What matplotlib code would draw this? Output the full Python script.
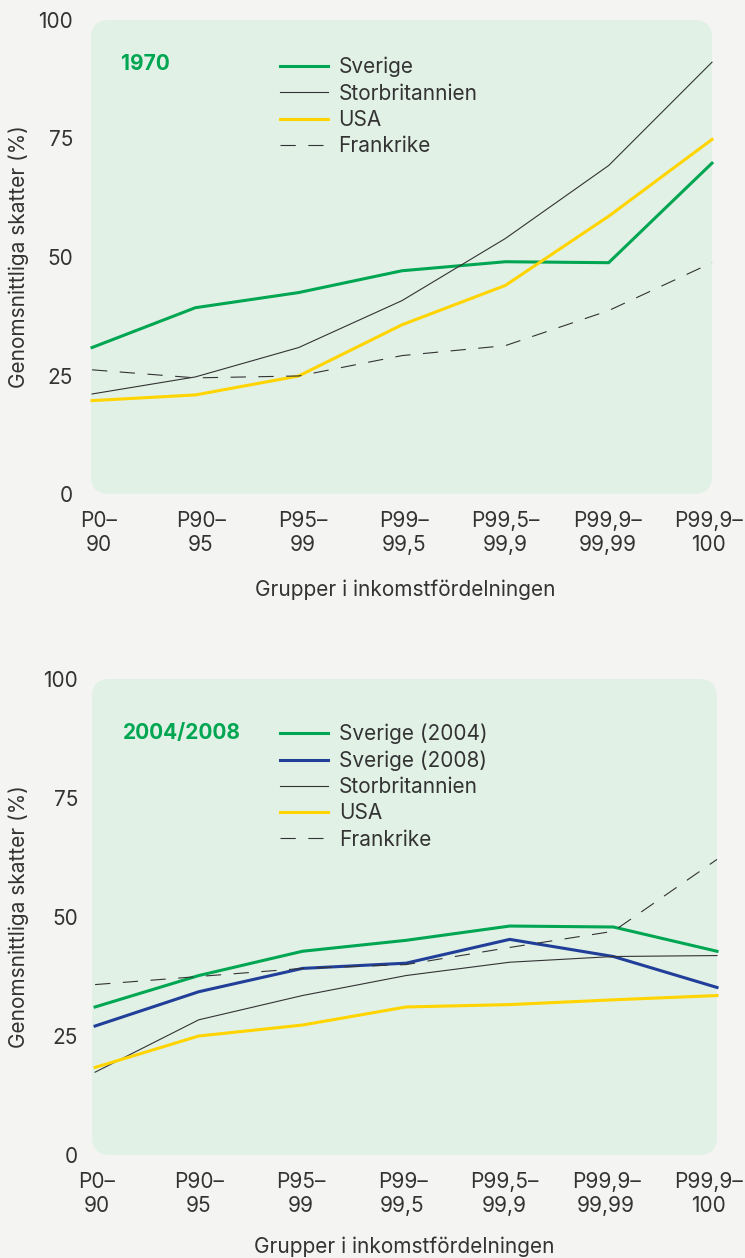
import matplotlib
matplotlib.use("Agg")
import matplotlib.pyplot as plt
from matplotlib.patches import FancyBboxPatch
import numpy as np

plt.rcParams['font.family'] = ['Inter', 'DejaVu Sans']
plt.rcParams['lines.scale_dashes'] = False

# data
grupper = ['P0–\n90', 'P90–\n95', 'P95–\n99', 'P99–\n99,5', 'P99,5–\n99,9',
           'P99,9–\n99,99', 'P99,9–\n100']

sverige_1970 = [30.9, 39.3, 42.5, 47.1, 49.0, 48.8, 69.8]
storbritannien_1970 = [21.1, 24.7, 30.9, 40.8, 53.9, 69.3, 91.1]
usa_1970 = [19.7, 20.9, 24.9, 35.7, 44.0, 58.6, 74.8]
frankrike_1970 = [26.2, 24.5, 24.9, 29.2, 31.3, 38.7, 48.8]

sverige_2004 = [31.1, 37.7, 42.8, 45.1, 48.1, 47.9, 42.8]
sverige_2008 = [27.1, 34.3, 39.2, 40.3, 45.3, 41.7, 35.2]
storbritannien_0408 = [17.4, 28.4, 33.5, 37.7, 40.5, 41.7, 41.9]
usa_0408 = [18.4, 25.0, 27.3, 31.1, 31.6, 32.6, 33.5]
frankrike_0408 = [35.8, 37.5, 39.2, 40.0, 43.6, 47.0, 62.1]

GREEN = '#00a651'
BLUE = '#213f99'
YELLOW = '#ffd400'
DARK = '#333333'
PANEL = '#e1f1e6'
BG = '#f4f4f2'
FS = 15

fig = plt.figure(figsize=(7.45, 12.58), dpi=100)
fig.patch.set_facecolor(BG)

W, H = 745.0, 1258.0
ax1 = fig.add_axes([91 / W, (H - 494) / H, 621 / W, 474 / H])
ax2 = fig.add_axes([92 / W, (H - 1155) / H, 625 / W, 476 / H])

x = np.arange(len(grupper))


def style(ax, wpx, hpx, ypad, xlim, tick_span):
    ax.set_facecolor('none')
    for s in ax.spines.values():
        s.set_visible(False)
    r = 18.0 / wpx
    box = FancyBboxPatch((0, 0), 1, 1, boxstyle="round,pad=0,rounding_size=%f" % r,
                         transform=ax.transAxes, mutation_aspect=wpx / hpx,
                         facecolor=PANEL, edgecolor='none', zorder=0)
    ax.add_patch(box)
    ax.set_xlim(*xlim)
    ax.set_ylim(0, 100)
    ax.set_yticks([0, 25, 50, 75, 100])
    ax.set_xticks(np.linspace(tick_span[0], tick_span[1], len(grupper)))
    ax.set_xticklabels(grupper, linespacing=1.25)
    ax.tick_params(length=0, labelsize=FS, colors=DARK, labelcolor=DARK)
    ax.tick_params(axis='y', pad=ypad)
    ax.tick_params(axis='x', pad=12)


def series(ax, data):
    for vals, color, lw, ls, label in data:
        line, = ax.plot(x, vals, color=color, lw=lw, label=label, clip_on=False,
                        solid_joinstyle='miter', zorder=3)
        if ls == 'dash':
            line.set_dashes((11, 9))


def legend(ax, anchor):
    leg = ax.legend(loc='upper left', bbox_to_anchor=anchor, frameon=False,
                    fontsize=FS, handlelength=2.3, handletextpad=0.52,
                    labelspacing=0.3, borderpad=0, borderaxespad=0)
    for t in leg.get_texts():
        t.set_color(DARK)


style(ax1, 621, 474, 13, (-0.01, 6.0), (0.068, 5.97))
series(ax1, [
    (sverige_1970, GREEN, 2.2, '-', 'Sverige'),
    (storbritannien_1970, DARK, 0.8, '-', 'Storbritannien'),
    (usa_1970, YELLOW, 2.2, '-', 'USA'),
    (frankrike_1970, DARK, 0.8, 'dash', 'Frankrike'),
])
ax1.text(0.048, 0.907, '1970', transform=ax1.transAxes, color=GREEN,
         fontsize=FS, fontweight='bold', va='center', ha='left')
legend(ax1, (0.304, 0.922))
ax1.set_xlabel('Grupper i inkomstfördelningen', fontsize=FS, color=DARK)
ax1.xaxis.set_label_coords(0.506, -0.18)
ax1.set_ylabel('Genomsnittliga skatter (%)', fontsize=FS, color=DARK)
ax1.yaxis.set_label_coords(-0.1, 0.5)

style(ax2, 625, 476, 10, (-0.03, 6.0), (0.018, 5.914))
series(ax2, [
    (sverige_2004, GREEN, 2.2, '-', 'Sverige (2004)'),
    (sverige_2008, BLUE, 2.2, '-', 'Sverige (2008)'),
    (storbritannien_0408, DARK, 0.8, '-', 'Storbritannien'),
    (usa_0408, YELLOW, 2.2, '-', 'USA'),
    (frankrike_0408, DARK, 0.8, 'dash', 'Frankrike'),
])
ax2.text(0.0496, 0.8866, '2004/2008', transform=ax2.transAxes, color=GREEN,
         fontsize=FS, fontweight='bold', va='center', ha='left')
legend(ax2, (0.301, 0.906))
ax2.set_xlabel('Grupper i inkomstfördelningen', fontsize=FS, color=DARK)
ax2.xaxis.set_label_coords(0.5, -0.172)
ax2.set_ylabel('Genomsnittliga skatter (%)', fontsize=FS, color=DARK)
ax2.yaxis.set_label_coords(-0.1, 0.5)

fig.savefig('out.png', dpi=100, facecolor=BG)
